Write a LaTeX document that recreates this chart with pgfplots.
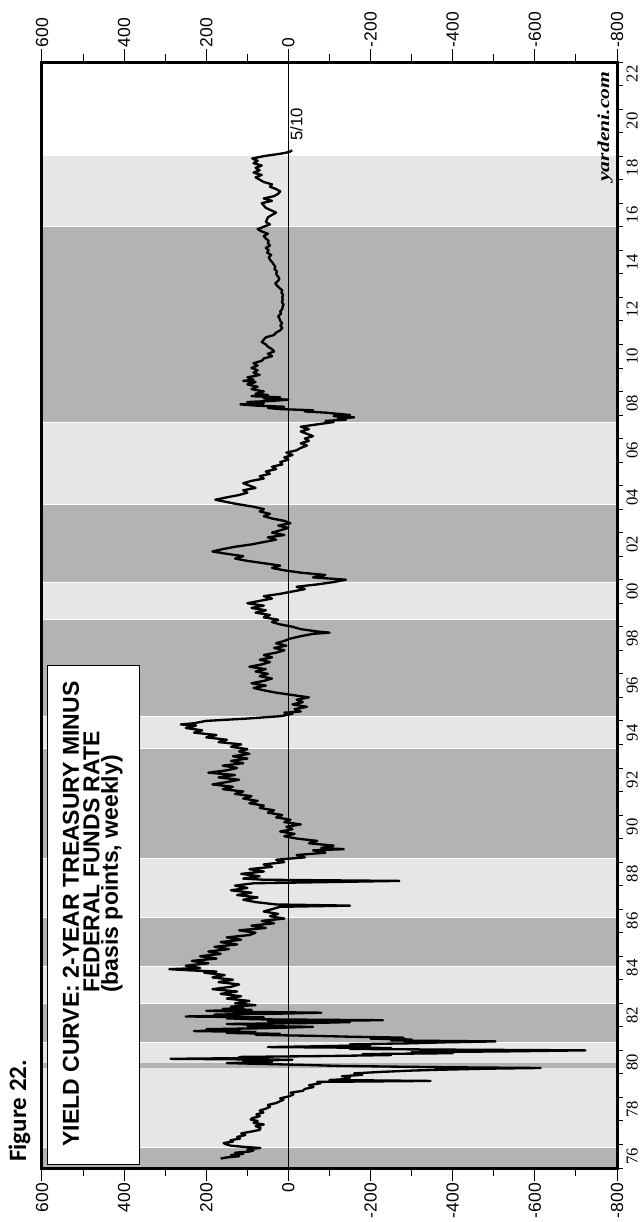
\documentclass[border=0pt]{standalone}
\usepackage{fontspec}
\setmainfont{Liberation Sans}
\newfontfamily\seriffont{Liberation Serif}
\newfontfamily\figfont{Carlito}
\usepackage{graphicx}
\usepackage{pgfplots}
\pgfplotsset{compat=1.18}
\usepackage{pgfplotstable}
\definecolor{darkband}{HTML}{B3B3B3}
\definecolor{lightband}{HTML}{E6E6E6}

\pgfplotstableread{
t v
1976.40 165
1976.45 150
1976.50 120
1976.55 140
1976.60 110
1976.65 130
1976.70 95
1976.75 85
1976.80 100
1976.85 68
1976.90 110
1976.95 140
1977.00 150
1977.06 158
1977.12 135
1977.18 141
1977.25 118
1977.32 125
1977.40 105
1977.47 115
1977.55 90
1977.62 70
1977.70 68
1977.78 80
1977.85 60
1977.92 85
1978.00 75
1978.06 92
1978.12 88
1978.20 70
1978.28 78
1978.36 61
1978.44 70
1978.52 55
1978.60 45
1978.68 50
1978.76 30
1978.84 20
1978.90 12
1978.96 20
1979.04 0
1979.12 -12
1979.20 -5
1979.28 -35
1979.36 -40
1979.44 -61
1979.52 -50
1979.60 -78
1979.66 -70
1979.70 -346
1979.74 -100
1979.78 -143
1979.85 -150
1979.90 -130
1979.96 -180
1980.02 -160
1980.08 -220
1980.14 -300
1980.18 -380
1980.22 -480
1980.25 -614
1980.28 -400
1980.31 -250
1980.34 -120
1980.38 -40
1980.42 60
1980.46 150
1980.50 40
1980.55 110
1980.60 -10
1980.64 287
1980.68 50
1980.72 120
1980.76 -100
1980.80 -250
1980.84 -180
1980.88 -400
1980.92 -300
1980.96 -550
1981.00 -723
1981.03 -400
1981.06 -150
1981.10 -250
1981.14 50
1981.18 -100
1981.22 -200
1981.26 -150
1981.30 -300
1981.34 -380
1981.38 -504
1981.42 -250
1981.46 -300
1981.50 -200
1981.54 -280
1981.58 -150
1981.62 -50
1981.66 80
1981.70 20
1981.74 150
1981.78 80
1981.82 230
1981.86 120
1981.90 200
1981.94 60
1982.00 -60
1982.04 100
1982.08 40
1982.12 150
1982.16 -50
1982.20 -150
1982.24 50
1982.28 -230
1982.32 80
1982.36 150
1982.40 60
1982.44 250
1982.48 120
1982.52 180
1982.56 20
1982.60 -80
1982.64 120
1982.68 200
1982.72 90
1982.76 160
1982.80 110
1982.86 140
1982.92 80
1983.00 130
1983.10 95
1983.20 150
1983.30 115
1983.40 165
1983.50 125
1983.60 185
1983.70 140
1983.80 120
1983.90 170
1984.00 135
1984.10 185
1984.20 155
1984.30 205
1984.35 175
1984.40 240
1984.45 290
1984.50 215
1984.60 250
1984.70 195
1984.80 235
1984.90 175
1985.00 215
1985.10 165
1985.20 195
1985.30 145
1985.40 180
1985.50 125
1985.60 165
1985.70 115
1985.80 150
1985.90 95
1986.00 80
1986.10 120
1986.20 55
1986.30 90
1986.40 35
1986.50 65
1986.60 10
1986.70 45
1986.80 25
1986.90 60
1987.00 40
1987.10 20
1987.15 -150
1987.20 30
1987.30 80
1987.40 110
1987.50 75
1987.60 125
1987.70 90
1987.80 140
1987.90 100
1988.00 130
1988.10 85
1988.20 -270
1988.25 60
1988.30 110
1988.40 70
1988.50 115
1988.60 60
1988.70 95
1988.80 40
1988.90 60
1989.00 10
1989.10 30
1989.20 -40
1989.30 -20
1989.40 -90
1989.50 -60
1989.55 -135
1989.60 -80
1989.70 -110
1989.80 -50
1989.90 -70
1990.00 -20
1990.10 10
1990.20 -15
1990.30 20
1990.40 -10
1990.50 5
1990.60 -30
1990.70 10
1990.80 -5
1990.90 30
1991.00 15
1991.10 50
1991.20 35
1991.30 70
1991.40 60
1991.50 95
1991.60 75
1991.70 110
1991.80 90
1991.90 130
1992.00 110
1992.10 160
1992.20 135
1992.30 185
1992.40 150
1992.50 120
1992.60 170
1992.70 130
1992.80 195
1992.90 150
1993.00 125
1993.10 160
1993.20 110
1993.30 140
1993.40 100
1993.50 135
1993.60 95
1993.70 120
1993.80 100
1993.90 140
1994.00 115
1994.10 170
1994.20 150
1994.30 200
1994.40 175
1994.50 230
1994.60 210
1994.70 250
1994.80 225
1994.85 262
1994.90 230
1995.00 200
1995.05 150
1995.10 100
1995.15 60
1995.20 20
1995.30 -10
1995.35 10
1995.40 -30
1995.50 -15
1995.60 -45
1995.70 -10
1995.80 -35
1995.90 -20
1996.00 -50
1996.10 -10
1996.20 30
1996.30 60
1996.40 85
1996.50 55
1996.60 90
1996.70 60
1996.80 40
1996.90 70
1997.00 50
1997.10 80
1997.20 55
1997.30 95
1997.40 65
1997.50 45
1997.60 70
1997.70 40
1997.80 60
1997.90 30
1998.00 10
1998.10 35
1998.20 5
1998.30 30
1998.40 10
1998.50 -5
1998.60 -30
1998.70 -60
1998.75 -100
1998.80 -70
1998.90 -30
1999.00 -10
1999.10 20
1999.20 40
1999.30 25
1999.40 60
1999.50 45
1999.60 80
1999.70 55
1999.80 90
1999.90 60
2000.00 100
2000.10 70
2000.20 40
2000.30 60
2000.40 20
2000.50 -10
2000.60 -40
2000.70 -20
2000.80 -70
2000.90 -110
2001.00 -140
2001.05 -100
2001.10 -60
2001.20 -90
2001.30 -30
2001.40 10
2001.50 40
2001.60 20
2001.70 60
2001.80 100
2001.90 130
2002.00 110
2002.10 150
2002.20 185
2002.30 160
2002.40 130
2002.50 90
2002.60 60
2002.70 30
2002.80 50
2002.90 10
2003.00 40
2003.10 20
2003.20 0
2003.30 25
2003.40 -5
2003.50 10
2003.60 40
2003.70 60
2003.80 45
2003.90 70
2004.00 60
2004.10 85
2004.20 120
2004.30 150
2004.40 178
2004.50 150
2004.60 120
2004.70 100
2004.80 110
2004.90 80
2005.00 95
2005.10 110
2005.20 90
2005.30 60
2005.40 70
2005.50 45
2005.60 55
2005.70 30
2005.80 40
2005.90 15
2006.00 20
2006.10 0
2006.20 10
2006.30 -10
2006.40 5
2006.50 -20
2006.60 -30
2006.70 -45
2006.80 -30
2006.90 -50
2007.00 -40
2007.10 -60
2007.20 -45
2007.30 -30
2007.40 -50
2007.50 -30
2007.60 -70
2007.70 -110
2007.75 -90
2007.80 -140
2007.85 -120
2007.90 -160
2007.95 -110
2008.00 -150
2008.05 -120
2008.10 -90
2008.15 -40
2008.20 -60
2008.25 20
2008.30 50
2008.35 10
2008.40 80
2008.45 117
2008.50 60
2008.55 100
2008.60 40
2008.65 0
2008.70 60
2008.75 20
2008.80 90
2008.85 50
2008.90 80
2009.00 60
2009.10 90
2009.20 75
2009.30 100
2009.40 80
2009.45 110
2009.50 85
2009.60 100
2009.70 70
2009.80 85
2009.90 75
2010.00 90
2010.10 75
2010.20 85
2010.30 65
2010.40 60
2010.50 40
2010.60 50
2010.70 35
2010.80 40
2010.90 50
2011.00 55
2011.10 65
2011.20 60
2011.30 55
2011.40 35
2011.50 30
2011.60 20
2011.70 15
2011.80 20
2011.90 15
2012.00 20
2012.10 22
2012.20 25
2012.30 18
2012.40 20
2012.50 15
2012.60 14
2012.70 12
2012.80 16
2012.90 14
2013.00 15
2013.10 13
2013.20 17
2013.30 15
2013.40 22
2013.50 28
2013.60 32
2013.70 25
2013.80 22
2013.90 26
2014.00 30
2014.10 28
2014.20 34
2014.30 32
2014.40 36
2014.50 40
2014.60 45
2014.70 48
2014.80 42
2014.90 52
2015.00 48
2015.10 55
2015.20 45
2015.30 50
2015.40 48
2015.50 55
2015.60 60
2015.70 50
2015.80 65
2015.90 75
2016.00 60
2016.10 45
2016.20 55
2016.40 50
2016.60 30
2016.80 55
2017.00 65
2017.10 40
2017.20 60
2017.30 35
2017.40 25
2017.50 20
2017.60 30
2017.70 45
2017.80 40
2017.90 60
2018.00 70
2018.10 80
2018.20 65
2018.30 85
2018.40 70
2018.50 80
2018.60 65
2018.70 85
2018.80 75
2018.90 88
2019.00 60
2019.05 40
2019.10 20
2019.15 5
2019.20 -5
2019.25 -9
}\yc

\pgfplotsset{
  geom/.style={at={(25.2pt,-700.8pt)}, anchor=south west, scale only axis,
    width=345pt, height=663.6pt, xmin=-800, xmax=600, x dir=reverse,
    ymin=1976, ymax=2023, axis line style={line width=1.8pt},
    tick style={black, line width=0.6pt}, tick align=outside},
  valaxis/.style={geom, ytick=\empty, xtick={-800,-600,...,600},
    xticklabels={-800,-600,-400,-200,0,200,400,600},
    minor x tick num=1, xtick pos=both,
    major tick length=7.8pt, minor tick length=4.8pt}
}

\begin{document}
\begin{tikzpicture}
\path (0pt,0pt) rectangle (385.2pt,-733.2pt);
\begin{axis}[geom, axis on top, xtick=\empty,
  ytick={1976,...,2023}, yticklabels={}, ytick pos=right, yticklabel pos=right,
  major tick length=3.6pt,
  extra y ticks={1976.5,1978.5,1980.5,1982.5,1984.5,1986.5,1988.5,1990.5,1992.5,1994.5,1996.5,1998.5,2000.5,2002.5,2004.5,2006.5,2008.5,2010.5,2012.5,2014.5,2016.5,2018.5,2020.5,2022.5},
  extra y tick labels={76,78,80,82,84,86,88,90,92,94,96,98,00,02,04,06,08,10,12,14,16,18,20,22},
  extra y tick style={major tick length=0pt},
  y tick label style={rotate=90, anchor=north, inner sep=0.5pt, font=\seriffont\fontsize{10}{12}\selectfont},
  yticklabel shift=5pt]
\addplot[draw=none, fill=lightband, forget plot] coordinates {(-800,1976) (600,1976) (600,2019.0) (-800,2019.0)} -- cycle;
\addplot[draw=white, line width=0.4pt, fill=darkband, forget plot] coordinates {(-800,1976) (600,1976) (600,1976.9) (-800,1976.9)} -- cycle;
\addplot[draw=none, fill=darkband, forget plot] coordinates {(-800,1980.25) (600,1980.25) (600,1980.45) (-800,1980.45)} -- cycle;
\addplot[draw=white, line width=0.4pt, fill=darkband, forget plot] coordinates {(-800,1981.35) (600,1981.35) (600,1983.0) (-800,1983.0)} -- cycle;
\addplot[draw=white, line width=0.4pt, fill=darkband, forget plot] coordinates {(-800,1984.55) (600,1984.55) (600,1986.67) (-800,1986.67)} -- cycle;
\addplot[draw=white, line width=0.4pt, fill=darkband, forget plot] coordinates {(-800,1989.15) (600,1989.15) (600,1993.85) (-800,1993.85)} -- cycle;
\addplot[draw=white, line width=0.4pt, fill=darkband, forget plot] coordinates {(-800,1995.2) (600,1995.2) (600,1999.3) (-800,1999.3)} -- cycle;
\addplot[draw=white, line width=0.4pt, fill=darkband, forget plot] coordinates {(-800,2000.9) (600,2000.9) (600,2004.2) (-800,2004.2)} -- cycle;
\addplot[draw=white, line width=0.4pt, fill=darkband, forget plot] coordinates {(-800,2007.7) (600,2007.7) (600,2016.0) (-800,2016.0)} -- cycle;
\addplot[black, line width=0.6pt, forget plot] coordinates {(0,1976) (0,2023)};
\addplot[black, line width=1.4pt, line join=round] table[x=v, y=t] {\yc};
\end{axis}
\begin{axis}[valaxis, xticklabel pos=lower,
  x tick label style={rotate=90, anchor=east, inner sep=1pt, font=\fontsize{10.5}{12}\selectfont}]
\end{axis}
\begin{axis}[valaxis, xticklabel pos=upper,
  x tick label style={rotate=90, anchor=west, inner sep=1pt, font=\fontsize{10.5}{12}\selectfont}]
\end{axis}
\begin{scope}[x=0.6pt, y=-0.6pt]
\draw[fill=white, line width=0.6pt] (47,665) rectangle (139,1164);
\node[rotate=90, inner sep=0pt, font=\bfseries\fontsize{13.8}{14}\selectfont] at (71,914) {YIELD CURVE: 2-YEAR TREASURY MINUS};
\node[rotate=90, inner sep=0pt, font=\bfseries\fontsize{13.8}{14}\selectfont] at (91.5,862) {FEDERAL FUNDS RATE};
\node[rotate=90, inner sep=0pt, font=\bfseries\fontsize{13.8}{14}\selectfont] at (112,874) {(basis points, weekly)};
\node[rotate=90, anchor=base west, inner sep=0pt, font=\figfont\bfseries\fontsize{15}{17}\selectfont] at (26,1162) {Figure 22.};
\node[rotate=90, anchor=base west, inner sep=0pt, font=\seriffont\bfseries\itshape\fontsize{10}{12}\selectfont] at (609,182) {\scalebox{1.3}[1]{yardeni.com}};
\node[rotate=90, anchor=north west, inner sep=0pt, font=\fontsize{10}{11}\selectfont] at (290,141) {5/10};
\end{scope}
\end{tikzpicture}
\end{document}
